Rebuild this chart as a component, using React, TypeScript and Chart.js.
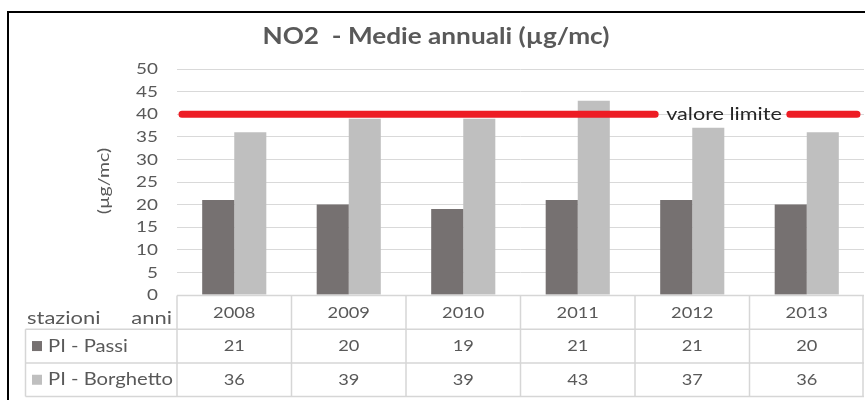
import React, { useEffect, useRef } from "react";
import { Chart, registerables } from "chart.js";

Chart.register(...registerables);

const years = ["2008", "2009", "2010", "2011", "2012", "2013"];
const passi = [21, 20, 19, 21, 21, 20];
const borghetto = [36, 39, 39, 43, 37, 36];
const seriesNames = ["PI - Passi", "PI - Borghetto"];
const yTicks = [0, 5, 10, 15, 20, 25, 30, 35, 40, 45, 50];
const limitValue = 40;
const limitLabel = "valore limite";
const titleText = "NO2  - Medie annuali (µg/mc)";
const yAxisTitle = "(µg/mc)";
const headerLeft = "stazioni";
const headerRight = "anni";

const FONT = "Lato, 'Open Sans', sans-serif";
const TEXT = "#595959";
const DARK = "#767171";
const LIGHT = "#bfbfbf";
const RED = "#ed1c24";
const GRID = "#d9d9d9";

function txt(ctx: any, s: string, x: number, y: number, align: string, font: string, color: string, sx = 1.2) {
  ctx.save();
  ctx.font = font;
  ctx.fillStyle = color;
  ctx.textBaseline = "middle";
  ctx.textAlign = align;
  ctx.translate(x, y);
  ctx.scale(sx, 1);
  ctx.fillText(s, 0, 0);
  ctx.restore();
}

const overlay = {
  id: "overlay",
  afterDraw(chart: any) {
    const ctx = chart.ctx;
    const x = chart.scales.x;
    const y = chart.scales.y;
    const area = chart.chartArea;
    ctx.save();

    // outer frame
    ctx.strokeStyle = "#000";
    ctx.lineWidth = 2;
    ctx.strokeRect(8, 12, 900, 500);

    // title
    txt(ctx, titleText, 436, 37, "center", "bold 22px " + FONT, TEXT, 1.19);

    // y tick labels
    yTicks.forEach((v) => {
      txt(ctx, String(v), 158, y.getPixelForValue(v), "right", "16px " + FONT, TEXT, 1.18);
    });

    // y axis title
    ctx.save();
    ctx.translate(104, 181);
    ctx.rotate(-Math.PI / 2);
    txt(ctx, yAxisTitle, 0, 0, "center", "16px " + FONT, TEXT, 1.22);
    ctx.restore();

    // limit line
    const ly = y.getPixelForValue(limitValue);
    const sxL = 1.2;
    ctx.font = "18px " + FONT;
    const tw = ctx.measureText(limitLabel).width * sxL;
    const tc = 724;
    ctx.strokeStyle = RED;
    ctx.lineWidth = 7;
    ctx.lineCap = "round";
    ctx.beginPath();
    ctx.moveTo(area.left + 5, ly);
    ctx.lineTo(tc - tw / 2 - 11, ly);
    ctx.moveTo(tc + tw / 2 + 8, ly);
    ctx.lineTo(area.right - 7, ly);
    ctx.stroke();
    txt(ctx, limitLabel, tc, ly, "center", "18px " + FONT, "#262626", sxL);

    // data table
    const top = area.bottom + 0.5;
    const rowH = 33.7;
    const r1 = top + rowH;
    const r2 = r1 + rowH;
    const r3 = r2 + rowH;
    const left = 25.5;
    const n = years.length;
    const catW = (area.right - area.left) / n;
    ctx.strokeStyle = "#d6d6d6";
    ctx.lineWidth = 1.5;
    ctx.lineCap = "butt";
    ctx.beginPath();
    ctx.moveTo(area.left, top);
    ctx.lineTo(area.right, top);
    for (const ry of [r1, r2, r3]) {
      ctx.moveTo(left, ry);
      ctx.lineTo(area.right, ry);
    }
    ctx.moveTo(left, r1);
    ctx.lineTo(left, r3);
    for (let i = 0; i <= n; i++) {
      const bx = i === n ? area.right - 1 : area.left + i * catW;
      ctx.moveTo(bx, top);
      ctx.lineTo(bx, r3);
    }
    ctx.stroke();

    const f16 = "16px " + FONT;
    years.forEach((yr, i) => {
      const cx = x.getPixelForValue(i);
      txt(ctx, yr, cx, (top + r1) / 2, "center", f16, TEXT, 1.14);
      txt(ctx, String(passi[i]), cx, (r1 + r2) / 2, "center", f16, TEXT, 1.14);
      txt(ctx, String(borghetto[i]), cx, (r2 + r3) / 2, "center", f16, TEXT, 1.14);
    });

    txt(ctx, headerLeft, 27, top + 23, "left", "18px " + FONT, TEXT, 1.22);
    txt(ctx, headerRight, 172, top + 23, "right", "18px " + FONT, TEXT, 1.22);

    const rows = [r1, r2];
    const cols = [DARK, LIGHT];
    rows.forEach((ry, k) => {
      const cy = ry + rowH / 2;
      ctx.fillStyle = cols[k];
      ctx.fillRect(32, cy - 5, 10, 10);
      txt(ctx, seriesNames[k], 48, cy, "left", "17px " + FONT, TEXT, 1.19);
    });

    ctx.restore();
  },
};

export default function App() {
  const ref = useRef<HTMLCanvasElement | null>(null);
  useEffect(() => {
    if (!ref.current) return;
    const chart = new Chart(ref.current, {
      type: "bar",
      data: {
        labels: years,
        datasets: [
          { label: seriesNames[0], data: passi, backgroundColor: DARK, borderWidth: 0 },
          { label: seriesNames[1], data: borghetto, backgroundColor: LIGHT, borderWidth: 0 },
        ],
      },
      options: {
        animation: false,
        responsive: false,
        maintainAspectRatio: false,
        events: [],
        layout: { padding: { top: 69, bottom: 105, left: 0, right: 1 } },
        datasets: { bar: { categoryPercentage: 0.56, barPercentage: 1 } } as any,
        plugins: {
          legend: { display: false },
          title: { display: false },
          tooltip: { enabled: false },
        },
        scales: {
          x: { display: false },
          y: {
            min: 0,
            max: 50,
            ticks: { stepSize: 5, display: false },
            grid: { color: GRID, lineWidth: 1, drawTicks: false },
            border: { display: false },
            afterFit: (s: any) => {
              s.width = 177;
            },
          },
        },
      },
      plugins: [overlay],
    });
    return () => chart.destroy();
  }, []);
  return (
    <div style={{ position: "fixed", left: 0, top: 0, width: 865, height: 400, background: "#fff" }}>
      <canvas ref={ref} width={865} height={400} style={{ width: 865, height: 400 }} />
    </div>
  );
}
